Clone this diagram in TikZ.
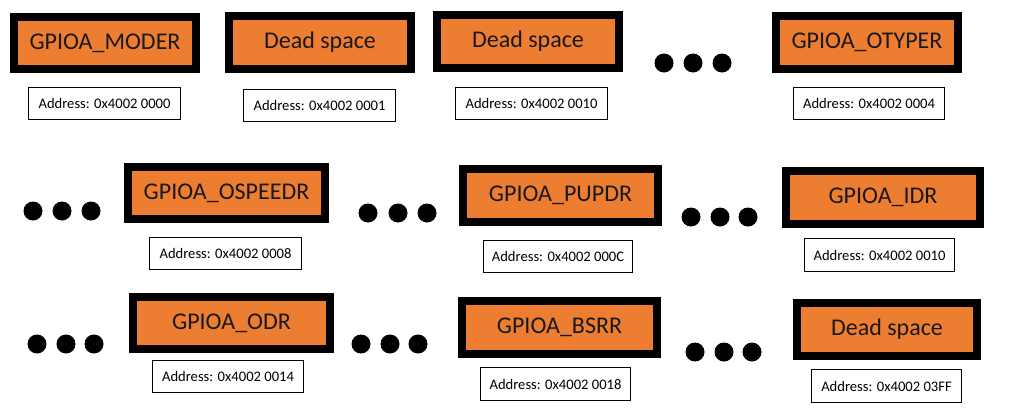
\documentclass[tikz,border=0pt]{standalone}
\usepackage{fontspec}
\setmainfont{Carlito}
\definecolor{regorange}{HTML}{ED7D31}
\begin{document}
\begin{tikzpicture}[x=1pt,y=-1pt,
  reg/.style={draw=black, fill=regorange, line width=8pt, inner sep=0pt,
    font=\fontsize{24}{28}\selectfont, text=black!90},
  addr/.style={draw=black, fill=white, line width=1pt, inner sep=0pt,
    font=\fontsize{14.6}{17}\selectfont, minimum height=32pt},
  dotnode/.style={circle, fill=black, minimum size=19pt, inner sep=0pt}]
\useasboundingbox (0,0) rectangle (1009,410);
\fill[white] (0,0) rectangle (1009,410);
% registers
\node[reg, minimum width=182pt, minimum height=52pt] (moder)  at (105,43)    {GPIOA\_MODER};
\node[reg, minimum width=182pt, minimum height=53pt] (dead1)  at (320,42.5)  {Dead space};
\node[reg, minimum width=182pt, minimum height=53pt] (dead2)  at (528,41.5)  {Dead space};
\node[reg, minimum width=182pt, minimum height=53pt] (otyper) at (867,42.5)  {GPIOA\_OTYPER};
\node[reg, minimum width=197pt, minimum height=52pt] (ospeed) at (226.5,193) {GPIOA\_OSPEEDR};
\node[reg, minimum width=195pt, minimum height=53pt] (pupdr)  at (560.5,195.5) {GPIOA\_PUPDR};
\node[reg, minimum width=194pt, minimum height=53pt] (idr)    at (883,197.5) {GPIOA\_IDR};
\node[reg, minimum width=197pt, minimum height=52pt] (odr)    at (231.5,323) {GPIOA\_ODR};
\node[reg, minimum width=195pt, minimum height=53pt] (bsrr)   at (559.5,327.5) {GPIOA\_BSRR};
\node[reg, minimum width=180pt, minimum height=53pt] (dead3)  at (887,329.5) {Dead space};
% addresses
\node[addr, minimum width=152pt] (a1)  at (104.5,103.5) {Address: 0x4002 0000};
\node[addr, minimum width=152pt] (a2)  at (319.5,105.5) {Address: 0x4002 0001};
\node[addr, minimum width=152pt] (a3)  at (531.5,103.5) {Address: 0x4002 0010};
\node[addr, minimum width=151pt] (a4)  at (869,103.5)   {Address: 0x4002 0004};
\node[addr, minimum width=152pt] (a5)  at (225.5,253.5) {Address: 0x4002 0008};
\node[addr, minimum width=149pt] (a6)  at (558,256.5)   {Address: 0x4002 000C};
\node[addr, minimum width=150pt, minimum height=33pt] (a7) at (879.5,255) {Address: 0x4002 0010};
\node[addr, minimum width=151pt] (a8)  at (228,376.5)   {Address: 0x4002 0014};
\node[addr, minimum width=150pt, minimum height=33pt] (a9)  at (555.5,384) {Address: 0x4002 0018};
\node[addr, minimum width=150pt, minimum height=33pt] (a10) at (886.5,386) {Address: 0x4002 03FF};
% ellipsis dots
\node[dotnode] (d1a) at (664,63) {};
\node[dotnode] (d1b) at (693,63) {};
\node[dotnode] (d1c) at (722,63) {};
\node[dotnode] (d2a) at (33,211) {};
\node[dotnode] (d2b) at (62,211) {};
\node[dotnode] (d2c) at (91,211) {};
\node[dotnode] (d3a) at (368,213) {};
\node[dotnode] (d3b) at (398,213) {};
\node[dotnode] (d3c) at (427,213) {};
\node[dotnode] (d4a) at (691,217) {};
\node[dotnode] (d4b) at (720,217) {};
\node[dotnode] (d4c) at (748,217) {};
\node[dotnode] (d5a) at (37,344) {};
\node[dotnode] (d5b) at (66,344) {};
\node[dotnode] (d5c) at (94,344) {};
\node[dotnode] (d6a) at (361,344) {};
\node[dotnode] (d6b) at (390,344) {};
\node[dotnode] (d6c) at (418,344) {};
\node[dotnode] (d7a) at (695,352) {};
\node[dotnode] (d7b) at (724,352) {};
\node[dotnode] (d7c) at (752,352) {};
\end{tikzpicture}
\end{document}
